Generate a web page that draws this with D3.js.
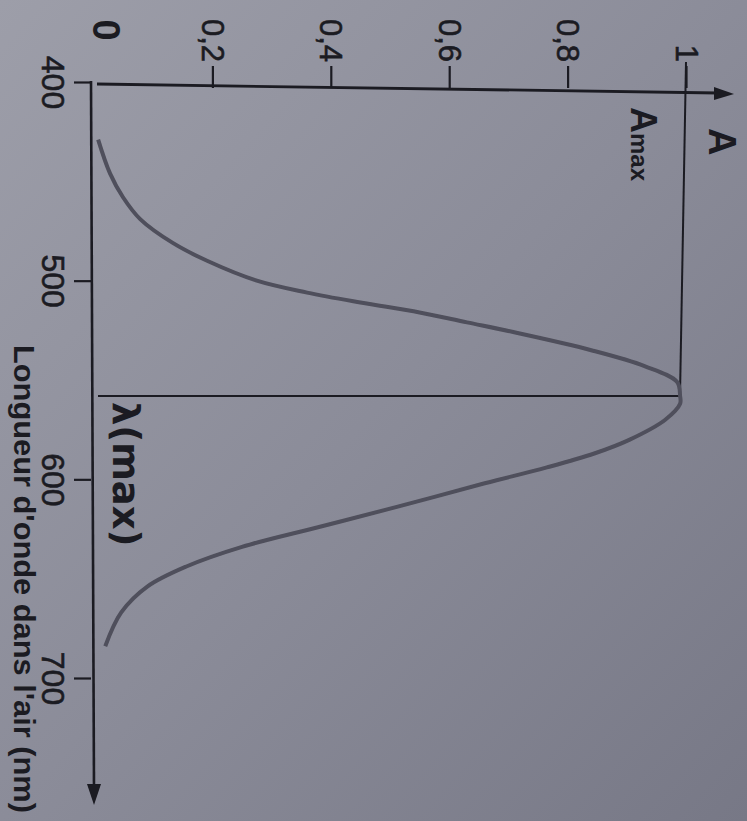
<!DOCTYPE html>
<html>
<head>
<meta charset="utf-8">
<script src="https://cdn.jsdelivr.net/npm/d3@7"></script>
<style>
html, body { margin: 0; padding: 0; background: #8b8c99; }
svg { display: block; }
text { font-family: "Liberation Sans", Arial, sans-serif; fill: #1b1b22; }
</style>
</head>
<body>
<div id="chart"></div>
<script>
// absorption spectrum (the chart is printed turned by 90 degrees)
var wavelengths = [429, 446, 458, 469, 481, 490, 500, 506, 511, 516, 521, 526, 535, 543, 551, 558, 562, 570, 580, 587, 594, 602, 614, 624, 634, 644, 654, 667, 684];
var absorbance = [0.007, 0.027, 0.049, 0.078, 0.133, 0.191, 0.275, 0.36, 0.45, 0.55, 0.63, 0.71, 0.84, 0.93, 0.985, 0.99, 0.99, 0.965, 0.905, 0.845, 0.765, 0.66, 0.51, 0.38, 0.25, 0.155, 0.09, 0.046, 0.019];
var lambdaTicks = [400, 500, 600, 700];
var aTicks = [0.2, 0.4, 0.6, 0.8, 1];
var lambdaMax = 558;
var aMax = 1;

var width = 747, height = 821;
var ink = "#1b1b22";

// wavelength runs down the page, absorbance runs to the right
var y = d3.scaleLinear().domain([400, 700]).range([82, 678]);
var x = d3.scaleLinear().domain([0, 1]).range([94, 686]);

var svg = d3.select("#chart").append("svg")
    .attr("width", width)
    .attr("height", height);

var defs = svg.append("defs");
var grad = defs.append("linearGradient")
    .attr("id", "paper")
    .attr("x1", "0").attr("y1", "0")
    .attr("x2", "1").attr("y2", "1");
grad.append("stop").attr("offset", "0%").attr("stop-color", "#9d9ea9");
grad.append("stop").attr("offset", "50%").attr("stop-color", "#8b8c99");
grad.append("stop").attr("offset", "100%").attr("stop-color", "#777886");

defs.append("filter").attr("id", "soft")
    .append("feGaussianBlur").attr("stdDeviation", 0.7);

svg.append("rect")
    .attr("width", width)
    .attr("height", height)
    .attr("fill", "url(#paper)");

// wavelength axis
var axisX = 91;
var gL = svg.append("g")
    .attr("transform", "translate(" + axisX + ",0)")
    .call(d3.axisLeft(y).tickValues(lambdaTicks).tickSize(17).tickSizeOuter(0));
gL.select(".domain").remove();
gL.selectAll(".tick line").attr("stroke", ink).attr("stroke-width", 2.2);
gL.selectAll(".tick text")
    .attr("x", 0).attr("y", 0).attr("dy", 0)
    .attr("text-anchor", "middle")
    .attr("transform", "translate(-49,0) rotate(90)")
    .style("font-size", "32px")
    .attr("fill", ink)
    .attr("stroke", ink).attr("stroke-width", 0.6);

svg.append("line")
    .attr("x1", axisX).attr("y1", y(400) - 1)
    .attr("x2", axisX + 3).attr("y2", 790)
    .attr("stroke", ink).attr("stroke-width", 2.6);
svg.append("path")
    .attr("d", "M" + (axisX + 3) + ",805 L" + (axisX - 4) + ",784 L" + (axisX + 10) + ",784 Z")
    .attr("fill", ink);

// absorbance axis
var axisY = 88;
var gT = svg.append("g")
    .attr("transform", "translate(0," + axisY + ")")
    .call(d3.axisTop(x).tickValues(aTicks).tickSize(22).tickSizeOuter(0)
        .tickFormat(function (d) { return d === 1 ? "1" : d3.format(".1f")(d).replace(".", ","); }));
gT.select(".domain").remove();
gT.selectAll(".tick line").attr("stroke", ink).attr("stroke-width", 2.2);
gT.selectAll(".tick text")
    .attr("x", 0).attr("y", 0).attr("dy", 0)
    .attr("text-anchor", "end")
    .attr("transform", "translate(-11,-26) rotate(90)")
    .style("font-size", "31px")
    .attr("fill", ink)
    .attr("stroke", ink).attr("stroke-width", 0.6);

svg.append("line")
    .attr("x1", x(0) + 3).attr("y1", axisY - 4)
    .attr("x2", 718).attr("y2", axisY + 5)
    .attr("stroke", ink).attr("stroke-width", 2.8);
svg.append("path")
    .attr("d", "M734," + (axisY + 6) + " L714," + (axisY - 1) + " L714," + (axisY + 12) + " Z")
    .attr("fill", ink);

// zero of the absorbance axis, printed bold
svg.append("text")
    .attr("transform", "translate(" + (x(0) - 1) + ",30) rotate(90)")
    .attr("text-anchor", "middle")
    .style("font-size", "38px")
    .style("font-weight", "bold")
    .text("0");

// guide lines to the maximum
svg.append("line")
    .attr("x1", x(aMax)).attr("y1", y(400) - 20)
    .attr("x2", x(aMax) - 6).attr("y2", y(lambdaMax))
    .attr("stroke", ink).attr("stroke-width", 2);
svg.append("line")
    .attr("x1", x(0) + 4).attr("y1", y(lambdaMax))
    .attr("x2", x(aMax) - 6).attr("y2", y(lambdaMax))
    .attr("stroke", ink).attr("stroke-width", 2);

// spectrum
var line = d3.line()
    .x(function (d, i) { return x(absorbance[i]); })
    .y(function (d) { return y(d); })
    .curve(d3.curveCatmullRom);

svg.append("path")
    .datum(wavelengths)
    .attr("d", line)
    .attr("fill", "none")
    .attr("stroke", "#4f4f5b")
    .attr("stroke-width", 4)
    .attr("filter", "url(#soft)");

// labels
svg.append("text")
    .attr("transform", "translate(709,128) rotate(90)")
    .style("font-size", "38px")
    .style("font-weight", "bold")
    .text("A");

var amax = svg.append("text")
    .attr("transform", "translate(631,107) rotate(90)")
    .style("font-size", "36px")
    .style("font-weight", "bold");
amax.append("tspan").text("A");
amax.append("tspan").style("font-size", "24px").text("max");

svg.append("text")
    .attr("transform", "translate(113," + (y(lambdaMax) + 6) + ") rotate(90)")
    .style("font-family", "'DejaVu Sans', sans-serif")
    .style("font-size", "37px")
    .style("font-weight", "bold")
    .text("λ(max)");

svg.append("text")
    .attr("transform", "translate(14,345) rotate(90)")
    .attr("textLength", 468)
    .attr("lengthAdjust", "spacingAndGlyphs")
    .style("font-size", "29px")
    .style("font-weight", "bold")
    .text("Longueur d'onde dans l'air (nm)");
</script>
</body>
</html>
